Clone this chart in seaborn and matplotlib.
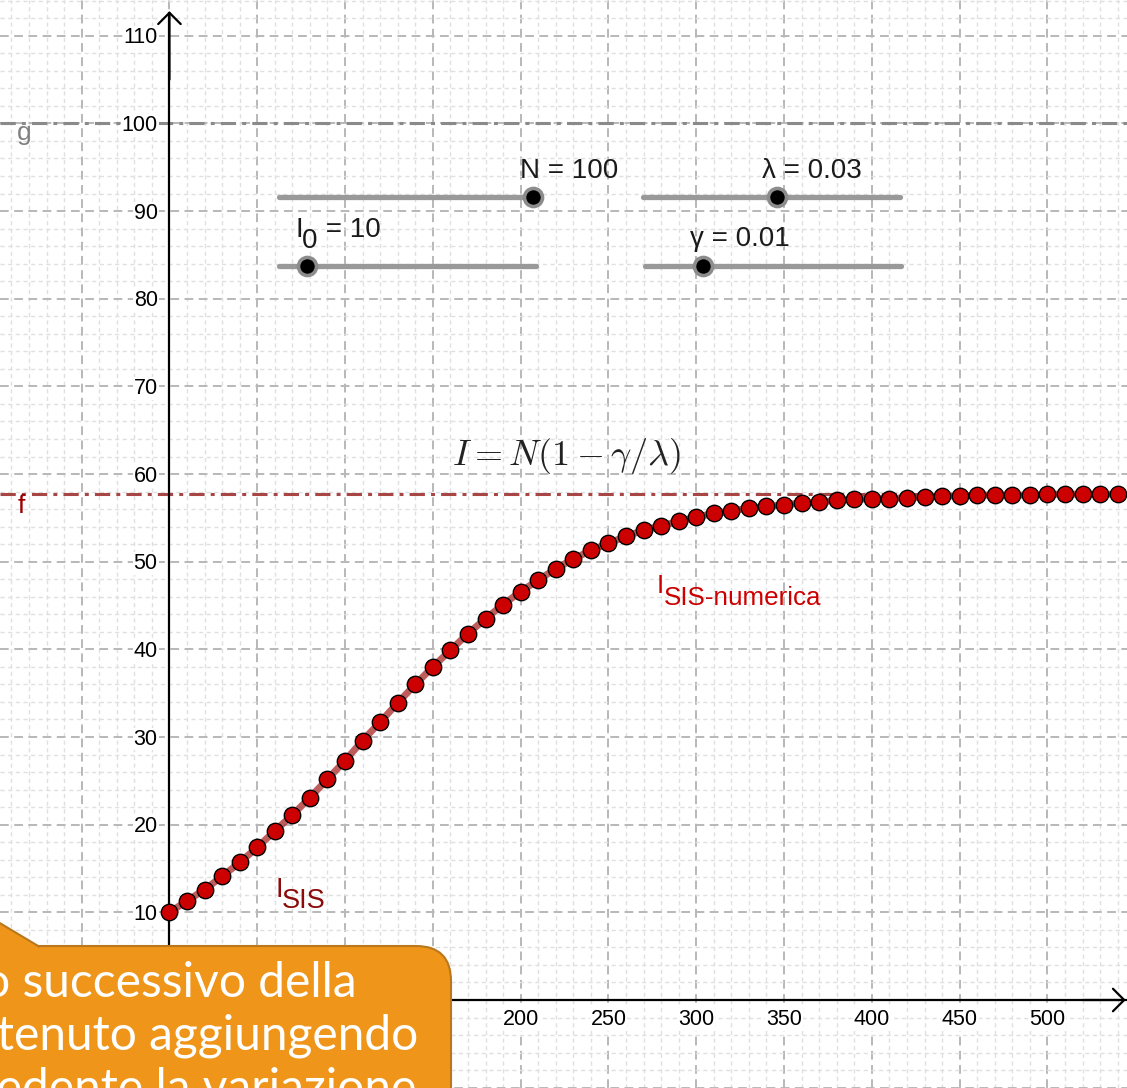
"""
SIS model - GeoGebra style view of I(t) with its numerical solution
"""

import numpy as np
import pandas as pd
import matplotlib
matplotlib.use("Agg")
import matplotlib.pyplot as plt
import seaborn as sns
from matplotlib.patches import FancyBboxPatch, Polygon
from matplotlib.transforms import Affine2D

# ---------- DATA ----------
t_steps = [0, 10, 20, 30, 40, 50, 60, 70, 80, 90,
           100, 110, 120, 130, 140, 150, 160, 170, 180, 190,
           200, 210, 220, 230, 240, 250, 260, 270, 280, 290,
           300, 310, 320, 330, 340, 350, 360, 370, 380, 390,
           400, 410, 420, 430, 440, 450, 460, 470, 480, 490,
           500, 510, 520, 530, 540]
I_numerica = [10.0, 11.3, 12.6, 14.1, 15.7, 17.4, 19.3, 21.1, 23.1, 25.2,
              27.3, 29.6, 31.7, 33.9, 36.0, 38.0, 39.9, 41.8, 43.5, 45.1,
              46.6, 47.9, 49.2, 50.3, 51.3, 52.1, 52.9, 53.6, 54.1, 54.6,
              55.1, 55.5, 55.8, 56.1, 56.3, 56.5, 56.7, 56.8, 57.0, 57.1,
              57.2, 57.2, 57.3, 57.4, 57.5, 57.5, 57.6, 57.6, 57.6, 57.6,
              57.7, 57.7, 57.7, 57.7, 57.7]
f_level = 57.72   # I = N(1 - gamma/lambda)
g_level = 100     # N

# slider texts: (main, subscript, rest)
slider_labels = [("N", "", " = 100"), ("λ", "", " = 0.03"),
                 ("I", "0", " = 10"), ("γ", "", " = 0.01")]
# (x start, x end, y, knob x) in data units, label (left px, baseline px)
slider_geom = [(62.4, 208.5, 91.64, 207.3),
               (269.6, 415.8, 91.64, 345.8),
               (62.4, 208.5, 83.77, 78.3),
               (270.8, 416.6, 83.77, 303.8)]
slider_text_pos = [(520, 178), (762, 178), (296, 237), (690, 246)]

x_grid = [-50, 0, 50, 100, 150, 200, 250, 300, 350, 400, 450, 500]
x_labels = [150, 200, 250, 300, 350, 400, 450, 500]
y_grid = [-10, 0, 10, 20, 30, 40, 50, 60, 70, 80, 90, 100, 110]
y_labels = [10, 20, 30, 40, 50, 60, 70, 80, 90, 100, 110]

callout_lines = ["Il valore al passo successivo della",
                 "è ottenuto aggiungendo",
                 "al valore precedente la variazione"]

df = pd.DataFrame({"t": t_steps, "I": I_numerica})

# ---------- FIGURE ----------
sns.set_theme(style="white")
plt.rcParams["font.family"] = ["Liberation Sans", "DejaVu Sans"]
plt.rcParams["mathtext.fontset"] = "cm"

W, H = 1127, 1088
fig = plt.figure(figsize=(W / 100, H / 100), dpi=100)
ax = fig.add_axes([0, 0, 1, 1])
ax.set_xlim(-96.5, 545.3)
ax.set_ylim(-10.04, 114.08)

# image pixel coordinates (y down)
pix = Affine2D().scale(1 / W, -1 / H).translate(0, 1) + fig.transFigure

# grid
ax.set_xticks(x_grid)
ax.set_yticks(y_grid)
ax.set_xticks(np.arange(-90, 546, 10), minor=True)
ax.set_yticks(np.arange(-10, 115, 2), minor=True)
ax.grid(which="minor", color="#e0e0e0", lw=1.0, ls=(0, (3, 2.5)))
ax.grid(which="major", color="#b8b8b8", lw=1.4, ls=(0, (4.5, 2.8)))
ax.tick_params(which="both", length=0, labelbottom=False, labelleft=False)

# tick labels drawn on a white background, like GeoGebra
lab_bg = dict(facecolor="white", edgecolor="none", pad=0.6)
for v in y_labels:
    ax.annotate(str(v), xy=(0, v), xytext=(-8.5, -1.5), textcoords="offset points",
                ha="right", va="center", fontsize=15.5, color="black",
                bbox=lab_bg, zorder=2.5)
for v in x_labels:
    ax.annotate(str(v), xy=(v, 0), xytext=(0, -6.5), textcoords="offset points",
                ha="center", va="top", fontsize=15.5, color="black",
                bbox=lab_bg, zorder=2.5)

for side in ["top", "right"]:
    ax.spines[side].set_visible(False)
ax.spines["left"].set_position(("data", 0))
ax.spines["bottom"].set_position(("data", 0))
ax.spines["left"].set_bounds(-10.04, 112.6)
ax.spines["bottom"].set_bounds(-96.5, 544.5)
for side in ["left", "bottom"]:
    ax.spines[side].set_linewidth(1.6)
    ax.spines[side].set_color("black")
    ax.spines[side].set_zorder(2.6)

arrow = dict(arrowstyle="->,head_length=0.45,head_width=0.45", lw=1.6,
             color="black", mutation_scale=18, shrinkA=0, shrinkB=0)
ax.annotate("", xy=(0, 112.8), xytext=(0, 105), arrowprops=arrow, zorder=2.6)
ax.annotate("", xy=(544.6, 0), xytext=(520, 0), arrowprops=arrow, zorder=2.6)

# horizontal lines g and f
ax.axhline(g_level, color="#8a8a8a", lw=2.2, dashes=(5, 2, 1.3, 2), zorder=2)
ax.axhline(f_level, color="#a84646", lw=2.2, dashes=(5, 2, 1.3, 2), zorder=2)
ax.text(17, 140, "g", transform=pix, fontsize=19, color="#808080", va="baseline")
ax.text(18, 513, "f", transform=pix, fontsize=19, color="#990000", va="baseline")

# SIS curve and numerical points
sns.lineplot(data=df, x="t", y="I", color="#b03535", lw=5, alpha=0.8,
             ax=ax, zorder=3)
sns.scatterplot(data=df, x="t", y="I", s=140, color="#cc0000",
                edgecolor="black", linewidth=1.0, ax=ax, zorder=4)
ax.set_xlabel("")
ax.set_ylabel("")

# labels of the curves
ax.text(275, 897, "I", transform=pix, fontsize=19.5, color="#8b0a0a", va="baseline")
ax.text(282, 908, "SIS", transform=pix, fontsize=19.5, color="#8b0a0a", va="baseline")
ax.text(657, 593, "I", transform=pix, fontsize=18.7, color="#cc0000", va="baseline")
ax.text(664, 605, "SIS-numerica", transform=pix, fontsize=18.7, color="#cc0000",
        va="baseline")

# formula
ax.text(566, 456, r"$I = N(1 - \gamma/\lambda)$", transform=pix, fontsize=26,
        color="#222222", ha="center", va="center")

# sliders
for (main, sub, rest), (x0, x1, y, kx), (px, py) in zip(slider_labels, slider_geom,
                                                         slider_text_pos):
    ax.plot([x0, x1], [y, y], color="#999999", lw=3.8, solid_capstyle="round",
            zorder=5)
    ax.plot([kx], [y], marker="o", ms=13, mfc="black", mec="#8c8c8c", mew=2.6,
            zorder=6)
    if sub:
        ax.text(px, py, main, transform=pix, fontsize=20, color="#1a1a1a",
                va="baseline", zorder=6)
        ax.text(px + 6, py + 11, sub, transform=pix, fontsize=20,
                color="#1a1a1a", va="baseline", zorder=6)
        ax.text(px + 22, py, rest, transform=pix, fontsize=20,
                color="#1a1a1a", va="baseline", zorder=6)
    else:
        ax.text(px, py, main + rest, transform=pix, fontsize=20, color="#1a1a1a",
                va="baseline", zorder=6)

# callout box
orange = "#ef961a"
edge = "#b9781c"
box = FancyBboxPatch((-60, 946), 511, 260, boxstyle="round,pad=0,rounding_size=35",
                     transform=pix, facecolor=orange, edgecolor=edge, lw=1.5,
                     zorder=10)
fig.add_artist(box)
tri = Polygon([(-12, 916), (40, 947.5), (-12, 990)], closed=True, transform=pix,
              facecolor=orange, edgecolor="none", zorder=11)
fig.add_artist(tri)
fig.add_artist(plt.Line2D([-12, 39], [916, 946.5], transform=pix, color=edge,
                          lw=1.5, zorder=12))
for txt, xr, yb in zip(callout_lines, [357, 418, 416], [997, 1050, 1103]):
    fig.text(xr, yb, txt, transform=pix, fontsize=34.5, family="Lato",
             color="white", ha="right", va="baseline", zorder=13)

plt.savefig("out.png", dpi=100)
plt.close()
